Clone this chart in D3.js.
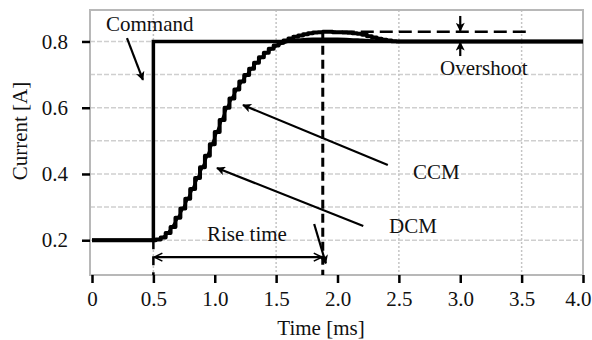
<!DOCTYPE html>
<html>
<head>
<meta charset="utf-8">
<script src="https://cdn.jsdelivr.net/npm/d3@7"></script>
<style>
  html, body { margin: 0; padding: 0; background: #fff; }
  svg { display: block; }
  text { font-family: "Liberation Serif", "Times New Roman", serif; fill: #111; }
</style>
</head>
<body>
<svg id="chart" width="592" height="340"></svg>
<script>
// Command step (A) versus time (ms)
const commandTime  = [0, 0.5, 4.0];
const commandValue = [0.2, 0.8, 0.8];

// DCM current, one sample per control period (ms / A)
const dcmTime = [0, 0.50, 0.54, 0.58, 0.62, 0.66, 0.70, 0.74, 0.78, 0.82, 0.86,
  0.90, 0.94, 0.98, 1.02, 1.06, 1.10, 1.14, 1.18, 1.22, 1.26,
  1.30, 1.34, 1.38, 1.42, 1.46, 1.50, 1.54, 1.58, 1.62, 1.66,
  1.70, 1.74, 1.78, 1.82, 1.86, 1.90, 1.94, 1.98, 2.02, 2.06,
  2.10, 2.14, 2.18, 2.22, 2.26, 2.30, 2.34, 2.38, 2.42, 2.46, 2.50, 4.0];
const dcmValue = [0.200, 0.200, 0.202, 0.208, 0.222, 0.240, 0.268, 0.296, 0.325, 0.355, 0.388,
  0.420, 0.455, 0.490, 0.527, 0.563, 0.600, 0.628, 0.655, 0.679, 0.699,
  0.718, 0.736, 0.752, 0.766, 0.778, 0.788, 0.796, 0.803, 0.809, 0.814,
  0.818, 0.822, 0.825, 0.827, 0.828, 0.829, 0.829, 0.828, 0.828, 0.827,
  0.826, 0.825, 0.823, 0.820, 0.816, 0.812, 0.808, 0.805, 0.803, 0.801, 0.800, 0.800];

// CCM current (ms / A)
const ccmTime  = [0, 0.5, 0.6, 0.7, 0.8, 0.9, 1.0, 1.1, 1.2, 1.3, 1.4, 1.5, 1.6, 1.7, 1.8, 1.9, 2.0, 2.1, 2.2, 2.3, 2.4, 2.5, 4.0];
const ccmValue = [0.2, 0.2, 0.215, 0.268, 0.34, 0.42, 0.51, 0.60, 0.667, 0.718, 0.759, 0.786, 0.800, 0.806, 0.808, 0.808, 0.808, 0.807, 0.805, 0.803, 0.801, 0.800, 0.800];

// Axis ticks
const xTicks = [0, 0.5, 1.0, 1.5, 2.0, 2.5, 3.0, 3.5, 4.0];
const xTickLabels = ["0", "0.5", "1.0", "1.5", "2.0", "2.5", "3.0", "3.5", "4.0"];
const yTicks = [0.2, 0.4, 0.6, 0.8];
const yTickLabels = ["0.2", "0.4", "0.6", "0.8"];
const xGrid = [0.5, 1.5, 2.5, 3.5];
const yGrid = [0.2, 0.3, 0.4, 0.5, 0.6, 0.7, 0.8];

// Rise-time and overshoot markers
const stepTime = 0.5;
const riseEnd = 1.88;
const peakValue = 0.829;
const overshootEnd = 3.57;
const overshootAt = 3.0;

const FONT = "21px";
const svg = d3.select("#chart");
const x = d3.scaleLinear().domain([0, 4]).range([92, 583]);
const y = d3.scaleLinear().domain([0.095, 0.895]).range([275, 10]);

// arrowheads
const defs = svg.append("defs");
defs.append("marker").attr("id", "head")
  .attr("viewBox", "0 0 10 10").attr("refX", 9).attr("refY", 5)
  .attr("markerWidth", 11).attr("markerHeight", 9).attr("markerUnits", "userSpaceOnUse")
  .attr("orient", "auto")
  .append("path").attr("d", "M0,0 L10,5 L0,10 L2.5,5 Z").attr("fill", "#000");
defs.append("marker").attr("id", "open")
  .attr("viewBox", "0 0 10 10").attr("refX", 9).attr("refY", 5)
  .attr("markerWidth", 10).attr("markerHeight", 10).attr("markerUnits", "userSpaceOnUse")
  .attr("orient", "auto-start-reverse")
  .append("path").attr("d", "M1,1 L9,5 L1,9").attr("fill", "none").attr("stroke", "#000").attr("stroke-width", 1.6);

// grid
const grid = svg.append("g");
grid.selectAll("line.h").data(yGrid).join("line")
  .attr("x1", x(0) - 2).attr("x2", x(4))
  .attr("y1", d => y(d)).attr("y2", d => y(d))
  .attr("stroke", "#cfcfcf").attr("stroke-width", 1.5).attr("stroke-dasharray", "5,2");
grid.selectAll("line.v").data(xGrid).join("line")
  .attr("x1", d => x(d)).attr("x2", d => x(d))
  .attr("y1", y(0.895)).attr("y2", y(0.095))
  .attr("stroke", "#c4c4c4").attr("stroke-width", 1.5).attr("stroke-dasharray", "2,2");

// frame
svg.append("rect")
  .attr("x", x(0) - 2).attr("y", y(0.895))
  .attr("width", x(4) - x(0) + 2).attr("height", y(0.095) - y(0.895))
  .attr("fill", "none").attr("stroke", "#b8b8b8").attr("stroke-width", 2);

// axes
const xAxis = svg.append("g").attr("transform", `translate(0,${y(0.095)})`)
  .call(d3.axisBottom(x).tickValues(xTicks).tickSize(8).tickPadding(8)
    .tickFormat((d, i) => xTickLabels[i]));
const yAxis = svg.append("g").attr("transform", `translate(${x(0) - 2},0)`)
  .call(d3.axisLeft(y).tickValues(yTicks).tickSize(8).tickPadding(14)
    .tickFormat((d, i) => yTickLabels[i]));
[xAxis, yAxis].forEach(a => {
  a.select(".domain").remove();
  a.selectAll(".tick line").attr("stroke", "#000").attr("stroke-width", 2.5);
  a.selectAll(".tick text").style("font-family", '"Liberation Serif", serif')
    .style("font-size", FONT).attr("fill", "#111");
});
// keep the last x label inside the page
xAxis.selectAll(".tick text").filter(d => d === 4).attr("text-anchor", "end").attr("x", 8);

svg.append("text").attr("x", 321).attr("y", 335).attr("text-anchor", "middle")
  .style("font-size", FONT).text("Time [ms]");
svg.append("text").attr("transform", "translate(27,131) rotate(-90)")
  .attr("text-anchor", "middle").style("font-size", FONT).text("Current [A]");

// dashed rise-time / overshoot guides
const dash = svg.append("g").attr("stroke", "#000").attr("fill", "none");
dash.append("line").attr("x1", x(riseEnd)).attr("x2", x(riseEnd))
  .attr("y1", y(peakValue)).attr("y2", y(0.095))
  .attr("stroke-width", 3).attr("stroke-dasharray", "9,5");
dash.append("line").attr("x1", x(stepTime)).attr("x2", x(stepTime))
  .attr("y1", y(0.2)).attr("y2", y(0.095))
  .attr("stroke-width", 2.5).attr("stroke-dasharray", "9,7");
dash.append("line").attr("x1", x(riseEnd)).attr("x2", x(overshootEnd))
  .attr("y1", y(peakValue)).attr("y2", y(peakValue))
  .attr("stroke-width", 2.5).attr("stroke-dasharray", "13,6");

// series
const line = (ts, vs, curve) => d3.line().x((d, i) => x(ts[i])).y(d => y(d)).curve(curve)(vs);
svg.append("path").attr("d", line(ccmTime, ccmValue, d3.curveMonotoneX))
  .attr("fill", "none").attr("stroke", "#000").attr("stroke-width", 2.5);
svg.append("path").attr("d", line(dcmTime, dcmValue, d3.curveStep))
  .attr("fill", "none").attr("stroke", "#000").attr("stroke-width", 4)
  .attr("stroke-linejoin", "round");
svg.append("path").attr("d", line(commandTime, commandValue, d3.curveStepAfter))
  .attr("fill", "none").attr("stroke", "#000").attr("stroke-width", 3.5);

// annotation arrows
const ann = svg.append("g").attr("stroke", "#000").attr("fill", "none");
const arrow = (t1, v1, t2, v2, w, m) => ann.append("line")
  .attr("x1", x(t1)).attr("y1", y(v1)).attr("x2", x(t2)).attr("y2", y(v2))
  .attr("stroke-width", w).attr("marker-end", `url(#${m})`);
arrow(0.285, 0.810, 0.415, 0.684, 2.2, "head");   // Command
arrow(2.41, 0.427, 1.23, 0.608, 2.2, "head");     // CCM
arrow(2.21, 0.243, 1.018, 0.418, 2.2, "head");    // DCM
arrow(1.81, 0.249, 1.905, 0.130, 2.2, "head");    // rise-time end
arrow(overshootAt, 0.877, overshootAt, peakValue + 0.003, 2.2, "head");
arrow(overshootAt, 0.756, overshootAt, 0.797, 2.2, "head");
ann.append("line")
  .attr("x1", x(stepTime) + 1).attr("x2", x(riseEnd) - 1)
  .attr("y1", y(0.149)).attr("y2", y(0.149))
  .attr("stroke-width", 2.2)
  .attr("marker-start", "url(#open)").attr("marker-end", "url(#open)");

// labels
const label = (t, v, s) => svg.append("text").attr("x", x(t)).attr("y", y(v))
  .style("font-size", FONT).text(s);
label(0.114, 0.833, "Command");
label(2.835, 0.699, "Overshoot");
label(2.615, 0.385, "CCM");
label(2.42, 0.222, "DCM");
label(0.937, 0.198, "Rise time");
</script>
</body>
</html>
